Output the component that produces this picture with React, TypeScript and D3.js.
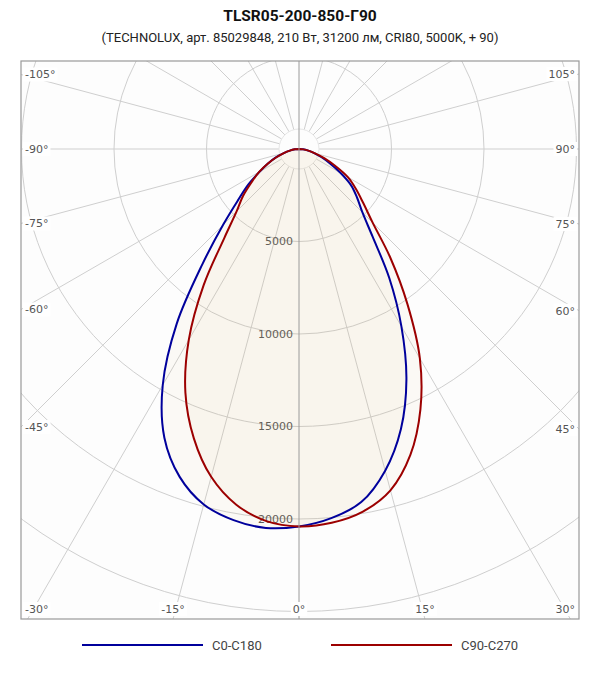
import * as d3 from 'd3';
import { useEffect, useRef } from 'react';

const W = 600;
const H = 680;

// polar angles (deg from nadir) and intensities
const angles = [0, 5, 10, 15, 20, 25, 30, 35, 40, 45, 50, 55, 60, 65, 70, 75, 80, 85, 90];
const c0 = [20400, 20030, 19380, 18000, 16110, 13740, 11070, 8500, 6190, 4850, 4100, 3450, 2600, 1850, 1300, 850, 500, 220, 0];
const c180 = [20400, 20560, 20370, 19890, 18860, 17220, 14730, 11520, 8120, 5810, 4300, 3350, 2450, 1850, 1350, 850, 500, 220, 0];
const c90 = [20400, 20280, 19900, 19100, 17600, 15530, 13065, 10205, 7690, 5630, 4525, 3750, 3050, 2150, 1450, 900, 520, 230, 0];
const c270 = [20400, 20190, 19525, 18345, 16630, 14530, 11915, 8985, 6284, 4770, 3950, 3130, 2500, 1850, 1300, 850, 500, 220, 0];

const rings = [5000, 10000, 15000, 20000, 25000, 30000];
const ringLabels = ['5000', '10000', '15000', '20000'];
const spokes = [-165, -150, -135, -120, -105, -90, -75, -60, -45, -30, -15, 0, 15, 30, 45, 60, 75, 90, 105, 120, 135, 150, 165, 180];
const angleLabels = [-105, -90, -75, -60, -45, -30, -15, 0, 15, 30, 45, 60, 75, 90, 105];

const series = [
  { name: 'C0-C180', left: c180, right: c0, color: '#00009c' },
  { name: 'C90-C270', left: c270, right: c90, color: '#9c0000' },
];

function PolarChart() {
  const svgRef = useRef<SVGSVGElement>(null);

  useEffect(() => {
    if (!svgRef.current) return;
    const svg = d3.select(svgRef.current);
    svg.selectAll('*').remove();

    const box = { left: 21, right: 579, top: 61, bottom: 619 };
    const cx = 299;
    const cy = 149;
    const r = d3.scaleLinear().domain([0, 25000]).range([0, 462.5]);
    const rad = (deg: number) => (deg * Math.PI) / 180;
    const labelFont = '"DejaVu Sans", Verdana, sans-serif';

    // Title
    svg
      .append('text')
      .attr('x', 300)
      .attr('y', 21)
      .attr('text-anchor', 'middle')
      .attr('font-family', 'Roboto, sans-serif')
      .attr('font-weight', 'bold')
      .attr('font-size', '15.5px')
      .attr('fill', '#111')
      .text('TLSR05-200-850-Г90');
    svg
      .append('text')
      .attr('x', 300)
      .attr('y', 42)
      .attr('text-anchor', 'middle')
      .attr('font-family', 'Roboto, sans-serif')
      .attr('font-size', '13px')
      .attr('fill', '#222')
      .text('(TECHNOLUX, арт. 85029848, 210 Вт, 31200 лм, CRI80, 5000K, + 90)');

    svg
      .append('clipPath')
      .attr('id', 'plot-clip')
      .append('rect')
      .attr('x', box.left)
      .attr('y', box.top)
      .attr('width', box.right - box.left)
      .attr('height', box.bottom - box.top);

    svg
      .append('rect')
      .attr('x', box.left)
      .attr('y', box.top)
      .attr('width', box.right - box.left)
      .attr('height', box.bottom - box.top)
      .attr('fill', '#fdfdfd');

    const plot = svg.append('g').attr('clip-path', 'url(#plot-clip)');
    const g = plot.append('g').attr('transform', `translate(${cx},${cy})`);

    // Grid rings
    g.selectAll('circle.ring')
      .data(rings)
      .join('circle')
      .attr('class', 'ring')
      .attr('r', (d) => r(d))
      .attr('fill', 'none')
      .attr('stroke', '#cfcfcf')
      .attr('stroke-width', 1);

    // Spokes
    const r0 = 20;
    g.selectAll('line.spoke')
      .data(spokes)
      .join('line')
      .attr('class', 'spoke')
      .attr('x1', (d) => r0 * Math.sin(rad(d)))
      .attr('y1', (d) => r0 * Math.cos(rad(d)))
      .attr('x2', (d) => 900 * Math.sin(rad(d)))
      .attr('y2', (d) => 900 * Math.cos(rad(d)))
      .attr('stroke', (d) => (d === 0 || d === 180 ? 'none' : '#cfcfcf'))
      .attr('stroke-width', 1);

    g.append('circle').attr('r', r0).attr('fill', 'none').attr('stroke', '#e6e6e6');

    // Vertical axis
    plot
      .append('line')
      .attr('x1', cx)
      .attr('x2', cx)
      .attr('y1', box.top)
      .attr('y2', box.bottom)
      .attr('stroke', '#9a9a9a')
      .attr('stroke-width', 1);

    // Ring labels
    g.selectAll('text.ring-label')
      .data(ringLabels)
      .join('text')
      .attr('class', 'ring-label')
      .attr('x', -6)
      .attr('y', (d) => r(+d))
      .attr('dy', '0.36em')
      .attr('text-anchor', 'end')
      .attr('font-family', labelFont)
      .attr('font-size', '11px')
      .attr('fill', '#555')
      .text((d) => d);

    // Curves
    const paths: string[] = [];
    for (const s of series) {
      const pts: [number, number][] = [
        ...angles.map((a, i) => [-a, s.left[i]] as [number, number]).reverse(),
        ...angles.slice(1).map((a, i) => [a, s.right[i + 1]] as [number, number]),
      ];
      const line = d3
        .lineRadial<[number, number]>()
        .angle((d) => Math.PI - rad(d[0]))
        .radius((d) => r(d[1]))
        .curve(d3.curveCatmullRom);
      const d = line(pts) as string;
      g.append('path')
        .attr('d', d + 'Z')
        .attr('fill', 'rgba(220,180,120,0.06)')
        .attr('stroke', 'none');
      paths.push(d);
    }
    series.forEach((s, i) => {
      g.append('path')
        .attr('d', paths[i])
        .attr('fill', 'none')
        .attr('stroke', s.color)
        .attr('stroke-width', 2);
    });

    // Angle labels on the frame
    for (const a of angleLabels) {
      const dx = Math.sin(rad(a));
      const dy = Math.cos(rad(a));
      const tx = dx > 1e-6 ? (box.right - cx) / dx : dx < -1e-6 ? (box.left - cx) / dx : Infinity;
      const ty = dy > 1e-6 ? (box.bottom - cy) / dy : dy < -1e-6 ? (box.top - cy) / dy : Infinity;
      const t = Math.min(tx, ty);
      const px = cx + t * dx;
      const py = cy + t * dy;
      const label = svg
        .append('text')
        .attr('font-family', labelFont)
        .attr('font-size', '11px')
        .attr('fill', '#555')
        .attr('dy', '0.36em')
        .text(`${a}°`);
      const w = (label.node() as SVGTextElement).getComputedTextLength();
      let lx: number;
      let ly: number;
      if (tx <= ty) {
        ly = Math.max(box.top + 10, Math.min(box.bottom - 10, py));
        lx = dx < 0 ? box.left + 4 + w / 2 : box.right - 4 - w / 2;
      } else {
        ly = box.bottom - 10;
        lx = Math.max(box.left + 4 + w / 2, Math.min(box.right - 4 - w / 2, px));
      }
      label.attr('x', lx).attr('y', ly).attr('text-anchor', 'middle');
      svg
        .insert('rect', () => label.node() as Element)
        .attr('x', lx - w / 2 - 2)
        .attr('y', ly - 7)
        .attr('width', w + 4)
        .attr('height', 14)
        .attr('fill', '#ffffff');
    }

    // Frame
    svg
      .append('rect')
      .attr('x', box.left)
      .attr('y', box.top)
      .attr('width', box.right - box.left)
      .attr('height', box.bottom - box.top)
      .attr('fill', 'none')
      .attr('stroke', '#999')
      .attr('stroke-width', 1.2);

    // Legend
    series.forEach((s, i) => {
      const x0 = 82 + i * 249;
      svg
        .append('line')
        .attr('x1', x0)
        .attr('x2', x0 + 121)
        .attr('y1', 645)
        .attr('y2', 645)
        .attr('stroke', s.color)
        .attr('stroke-width', 2);
      svg
        .append('text')
        .attr('x', x0 + 130)
        .attr('y', 645)
        .attr('dy', '0.35em')
        .attr('font-family', 'Roboto, sans-serif')
        .attr('font-size', '13px')
        .attr('fill', '#444')
        .text(s.name);
    });
  }, []);

  return (
    <svg
      ref={svgRef}
      width={W}
      height={H}
      style={{ position: 'absolute', left: 0, top: 0, background: '#fff' }}
    />
  );
}

export default function App() {
  return <PolarChart />;
}
